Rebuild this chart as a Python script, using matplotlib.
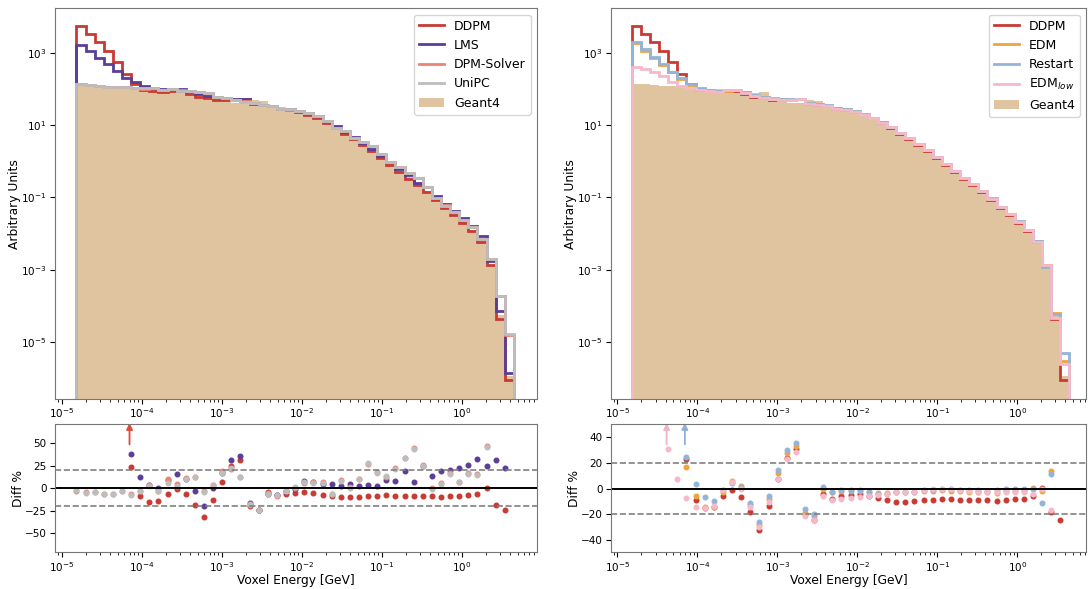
import numpy as np
import matplotlib
matplotlib.use("Agg")
import matplotlib.pyplot as plt
from matplotlib.lines import Line2D
from matplotlib.patches import Patch, FancyArrowPatch
from matplotlib.transforms import blended_transform_factory
from matplotlib.ticker import NullLocator, FixedLocator, NullFormatter

# ── Binning (log-spaced voxel energy bins, GeV) ─────────────────────────────
EDGES = np.logspace(-4.82, 0.652, 49)
XTICKS = [1e-5, 1e-4, 1e-3, 1e-2, 1e-1, 1e0]

# ── Geant4 reference histogram ──────────────────────────────────────────────
G4 = [140, 134, 129, 124, 119, 114, 112, 106, 101, 97, 92, 88, 80, 75, 82, 58,
      47, 40, 40, 49, 48, 35, 31, 28, 24.6, 20, 16.4, 12.4, 9.0, 6.4, 4.5, 3.1,
      2.1, 1.35, 0.87, 0.56, 0.36, 0.24, 0.155, 0.096, 0.057, 0.035, 0.022,
      0.013, 0.0063, 0.00137, 5.5e-5, 1.18e-6]

# ── Relative difference to Geant4 per bin, in % ─────────────────────────────
DIFF_DDPM = [3800, 2400, 1450, 800, 375, 130, 23, -9, -15, -14.4, -5.8, -1.1,
             -6.8, -18.4, -32, -13.3, 7.2, 24.1, 31, -19.8, -24.1, -4, -7.9,
             -6.1, -4.7, -4, -5.4, -7.6, -9, -10.1, -10.1, -9.7, -9, -8.6, -7.9,
             -8.3, -8.6, -8.6, -8.6, -8.6, -9.4, -9, -8.3, -7.9, -5.8, 0.4, -18,
             -24]
DIFF_LMS = [1110, 730, 443, 286, 163, 79, 37.8, 12.6, 3.2, 0.4, 9.4, 15.5, 10,
            -3.2, -19.8, 0.4, 17.3, 31.7, 35.3, -16.2, -24.1, -6.1, -7.9, -3.2,
            -0.7, 8.3, 6.5, 5, 4.7, 2.9, 4.3, 2.5, 3.2, 2.2, 9.7, 8.3, 19.5, 7.2,
            24.5, 14, 19.1, 20.5, 22.7, 25.2, 32.8, 24.9, 31, 22.7]
DIFF_DPMSOLVER = [-2.5, -4, -4.5, -6, -6, -3.5, -6.5, -3, 3.6, -2.5, 10, 5,
                  11.9, 12.6, -3.5, 3.6, 19, 21, 13, -18.5, -24.1, -5.5, -8.5,
                  -3.5, 0.5, 6, 6.5, 6.5, -6, 9, 1, 10, 27, 17.5, 12, 22, 34, 44,
                  26, 0, 5.5, 17, 6.5, 17, 15.5, 47, 240, 1250]
DIFF_UNIPC = [-1.8, -4.7, -4, -6.5, -5.8, -3.2, -7.2, -2.5, 2.9, -3.2, 6, 2.5,
              10, 12.6, -4, 3.2, 17.3, 22.7, 12, -17.6, -24.1, -6.1, -7.9, -3.2,
              1.1, 6.5, 6.1, 6.1, -6.8, 8.3, 0.4, 10.8, 28, 17, 13.3, 21.6, 33.5,
              43.2, 25, -0.4, 4.7, 16.2, 7.2, 16.2, 14.8, 45.7, 245, 1300]
DIFF_EDM = [1200, 760, 440, 270, 140, 62, 16.7, -5.6, -14.4, -14.4, -3, 5.8, 2,
            -13, -28, -8, 11.9, 27.3, 33.2, -19, -21, -0.5, -2.3, -1.8, -1.3,
            -1.3, -2.3, -3.3, -3.3, -2.5, -2.5, -2.3, -1.8, -1.5, -1.3, -1.5, -2,
            -2.3, -3, -2.5, -3.3, -1.8, -1.5, -1.5, 0.3, -1.8, 13.9, 160]
DIFF_RESTART = [1330, 825, 480, 293, 151, 72, 24.8, 3.3, -6.8, -9.4, -1.3, 4.5,
                1, -11.4, -26, -5.6, 14.2, 29.9, 35.7, -15.7, -19.5, 1.5, -2.3,
                -1.3, -1.8, -1.8, -2.3, -4.3, -3.8, -2.3, -2.3, -2.3, -1.3, -1.3,
                -0.3, -0.5, -1.3, -1.3, -1.3, -1.8, -1.3, -0.5, -0.5, -0.5, -0.3,
                -11.1, 11.4, 320]
DIFF_EDMLOW = [193, 164, 132, 84, 30.6, 7.1, -7.3, -13.9, -14.9, -13.2, -1.3,
               5.1, -0.5, -14.4, -29.5, -10.6, 7.6, 23, 28.1, -21.5, -24.6, -5.6,
               -8.9, -8.1, -7.6, -6.8, -6.1, -5.3, -4.3, -3, -2.3, -2.3, -1.3,
               -0.5, 0, -0.5, -1, -1.8, -3, -2.3, -3, -3, -2.8, -3, -3.8, 0,
               -16.5, 110]

# bins with off-scale markers (arrows in ratio panels)
ARROWS_LEFT = [(6, "#e0483c")]
ARROWS_RIGHT = [(4, "#f2b5c4"), (6, "#8eb0d6")]

G4_COLOR = "#dfc49f"
LEFT_MODELS = [
    ("DDPM", DIFF_DDPM, "#c93a33"),
    ("LMS", DIFF_LMS, "#5b3f96"),
    ("DPM-Solver", DIFF_DPMSOLVER, "#ee8275"),
    ("UniPC", DIFF_UNIPC, "#bdbdbd"),
]
RIGHT_MODELS = [
    ("DDPM", DIFF_DDPM, "#c93a33"),
    ("EDM", DIFF_EDM, "#f0a43a"),
    ("Restart", DIFF_RESTART, "#93b4d6"),
    ("EDM$_{low}$", DIFF_EDMLOW, "#f5b9c9"),
]

plt.rcParams.update({
    "font.family": "DejaVu Sans",
    "xtick.labelsize": 7.5, "ytick.labelsize": 7.5,
    "xtick.major.pad": 2.0, "ytick.major.pad": 2.5,
    "axes.labelsize": 8.8, "legend.fontsize": 9,
    "axes.edgecolor": "#777777",
})

fig = plt.figure(figsize=(10.88, 5.89), dpi=100)
g4 = np.array(G4)
centers = EDGES[:-1]
minor_x = [m * 10.0 ** e for e in range(-6, 1) for m in range(2, 10)]


def style_xaxis(ax, xlim):
    ax.set_xlim(*xlim)
    ax.set_xticks(XTICKS)
    ax.xaxis.set_minor_locator(FixedLocator(
        [v for v in minor_x if xlim[0] <= v <= xlim[1]]))
    ax.xaxis.set_minor_formatter(NullFormatter())


def draw_panel(ax_h, ax_r, models, arrows, xlim):
    # histogram panel
    ax_h.set_xscale("log")
    ax_h.set_yscale("log")
    ax_h.stairs(g4, EDGES, baseline=1e-12, fill=True, color=G4_COLOR, zorder=1)
    for name, diff, col in models:
        vals = g4 * (1 + np.array(diff) / 100.0)
        ax_h.stairs(vals, EDGES, baseline=1e-12, color=col, lw=2.0, zorder=2)
    style_xaxis(ax_h, xlim)
    ax_h.set_ylim(10 ** -6.57, 10 ** 4.23)
    ax_h.set_yticks([1e-5, 1e-3, 1e-1, 1e1, 1e3])
    ax_h.yaxis.set_minor_locator(NullLocator())
    ax_h.set_ylabel("Arbitrary Units", labelpad=0)
    handles = [Line2D([], [], color=c, lw=2) for _, _, c in models]
    handles.append(Patch(facecolor=G4_COLOR))
    labels = [n for n, _, _ in models] + ["Geant4"]
    ax_h.legend(handles, labels, loc="upper right")

    # ratio panel
    ax_r.set_xscale("log")
    for name, diff, col in models:
        ax_r.plot(centers, diff, "o", ms=3.3, color=col, ls="none")
    ax_r.axhline(0, color="black", lw=1.4)
    ax_r.axhline(20, color="gray", ls="--", lw=1.2)
    ax_r.axhline(-20, color="gray", ls="--", lw=1.2)
    trans = blended_transform_factory(ax_r.transData, ax_r.transAxes)
    for b, col in arrows:
        x = centers[b] * 10 ** -0.02
        arr = FancyArrowPatch((x, 0.82), (x, 1.03), transform=trans,
                              arrowstyle="-|>", color=col, lw=1.3,
                              mutation_scale=9, clip_on=False)
        ax_r.add_patch(arr)
    style_xaxis(ax_r, xlim)
    ax_r.set_xlabel("Voxel Energy [GeV]", labelpad=0)
    ax_r.set_ylabel("Diff %", labelpad=0)


ax1 = fig.add_axes([0.0506, 0.3226, 0.4430, 0.6633])
ax1r = fig.add_axes([0.0506, 0.0620, 0.4430, 0.2180])
draw_panel(ax1, ax1r, LEFT_MODELS, ARROWS_LEFT, (10 ** -5.0875, 10 ** 0.941))
ax1r.set_ylim(-71, 71)
ax1r.set_yticks([-50, -25, 0, 25, 50])

ax2 = fig.add_axes([0.5616, 0.3226, 0.4366, 0.6633])
ax2r = fig.add_axes([0.5616, 0.0620, 0.4366, 0.2180])
draw_panel(ax2, ax2r, RIGHT_MODELS, ARROWS_RIGHT, (10 ** -5.079, 10 ** 0.859))
ax2r.set_ylim(-49.5, 50)
ax2r.set_yticks([-40, -20, 0, 20, 40])

fig.savefig("out.png", dpi=100)
